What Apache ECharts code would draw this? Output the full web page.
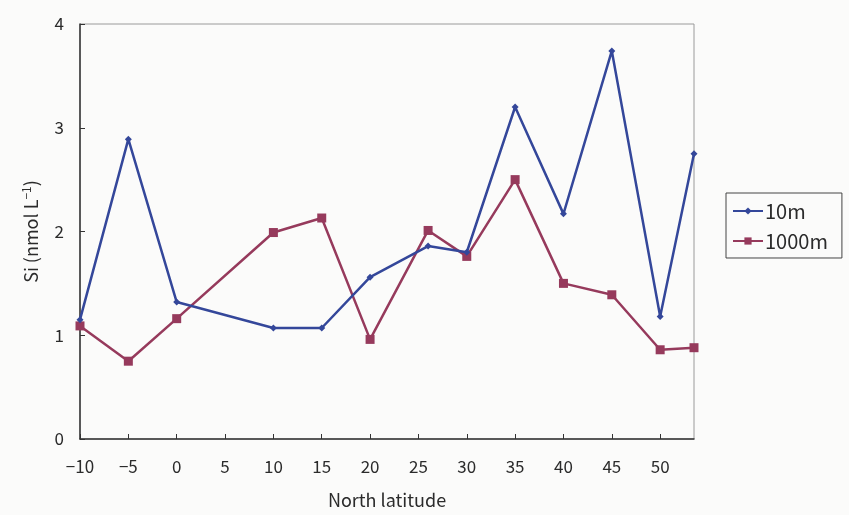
<!DOCTYPE html>
<html>
<head>
<meta charset="utf-8">
<script src="https://cdn.jsdelivr.net/npm/echarts@6/dist/echarts.min.js"></script>
<style>
  html, body { margin: 0; padding: 0; background: #fbfbfa; }
  #chart { width: 849px; height: 515px; }
</style>
</head>
<body>
<div id="chart"></div>
<script>
// Latitude (°N) of each sampling station
const latitude = [-10, -5, 0, 10, 15, 20, 26, 30, 35, 40, 45, 50, 53.5];
// Dissolved Si at 10 m and 1000 m depth (nmol L^-1)
const si10m = [1.15, 2.89, 1.32, 1.07, 1.07, 1.56, 1.86, 1.80, 3.20, 2.17, 3.74, 1.18, 2.75];
const si1000m = [1.09, 0.75, 1.16, 1.99, 2.13, 0.96, 2.01, 1.76, 2.50, 1.50, 1.39, 0.86, 0.88];
// Axis tick positions
const xTicks = [-10, -5, 0, 5, 10, 15, 20, 25, 30, 35, 40, 45, 50];

const FONT = "'Noto Sans CJK JP', 'Noto Sans', sans-serif";
const TXT = '#2b2b2b';

const pairs = (xs, ys) => xs.map((x, i) => [x, ys[i]]);

const chart = echarts.init(document.getElementById('chart'), null, { renderer: 'canvas' });
chart.setOption({
  backgroundColor: '#fbfbfa',
  animation: false,
  textStyle: { fontFamily: FONT },
  grid: {
    left: 80, top: 24, width: 614, height: 415,
    show: true, borderColor: '#9a9a9a', borderWidth: 1, backgroundColor: 'transparent'
  },
  legend: {
    orient: 'vertical',
    left: 726, top: 193,
    padding: [8, 14, 7, 6],
    itemGap: 10,
    itemWidth: 30, itemHeight: 9,
    borderColor: '#444', borderWidth: 1,
    textStyle: { fontSize: 20, color: TXT, fontFamily: FONT, padding: [0, 0, 0, -3] },
    data: ['10m', '1000m']
  },
  xAxis: {
    type: 'value',
    min: -10, max: 53.5,
    name: 'North latitude',
    nameLocation: 'middle',
    nameGap: 52,
    nameTextStyle: { fontSize: 18, color: TXT, fontFamily: FONT },
    splitLine: { show: false },
    axisLine: { onZero: false, lineStyle: { color: '#333', width: 1.5 } },
    axisTick: { inside: true, length: 5, customValues: xTicks, lineStyle: { color: '#333' } },
    axisLabel: {
      customValues: xTicks,
      margin: 19, fontSize: 17, color: TXT, fontFamily: FONT,
      formatter: v => (v < 0 ? '\u2212' + Math.abs(v) : String(v))
    }
  },
  yAxis: {
    type: 'value',
    min: 0, max: 4, interval: 1,
    name: 'Si (nmol L{sup|\u22121})',
    nameLocation: 'middle',
    nameGap: 38,
    nameTextStyle: {
      fontSize: 18, color: TXT, fontFamily: FONT,
      rich: { sup: { fontSize: 12, color: TXT, fontFamily: FONT, verticalAlign: 'top', padding: [0, 0, 10, 0] } }
    },
    splitLine: { show: false },
    axisLine: { show: true, onZero: false, lineStyle: { color: '#333', width: 1.5 } },
    axisTick: { show: true, inside: true, length: 5, lineStyle: { color: '#333' } },
    axisLabel: { margin: 16, fontSize: 17, color: TXT, fontFamily: FONT }
  },
  series: [
    {
      name: '10m',
      type: 'line',
      data: pairs(latitude, si10m),
      symbol: 'diamond',
      symbolSize: 7,
      lineStyle: { color: '#34479a', width: 2.5 },
      itemStyle: { color: '#34479a' },
      z: 3
    },
    {
      name: '1000m',
      type: 'line',
      data: pairs(latitude, si1000m),
      symbol: 'rect',
      symbolSize: 9,
      lineStyle: { color: '#963a5c', width: 2.5 },
      itemStyle: { color: '#963a5c' },
      z: 2
    }
  ]
});
</script>
</body>
</html>
